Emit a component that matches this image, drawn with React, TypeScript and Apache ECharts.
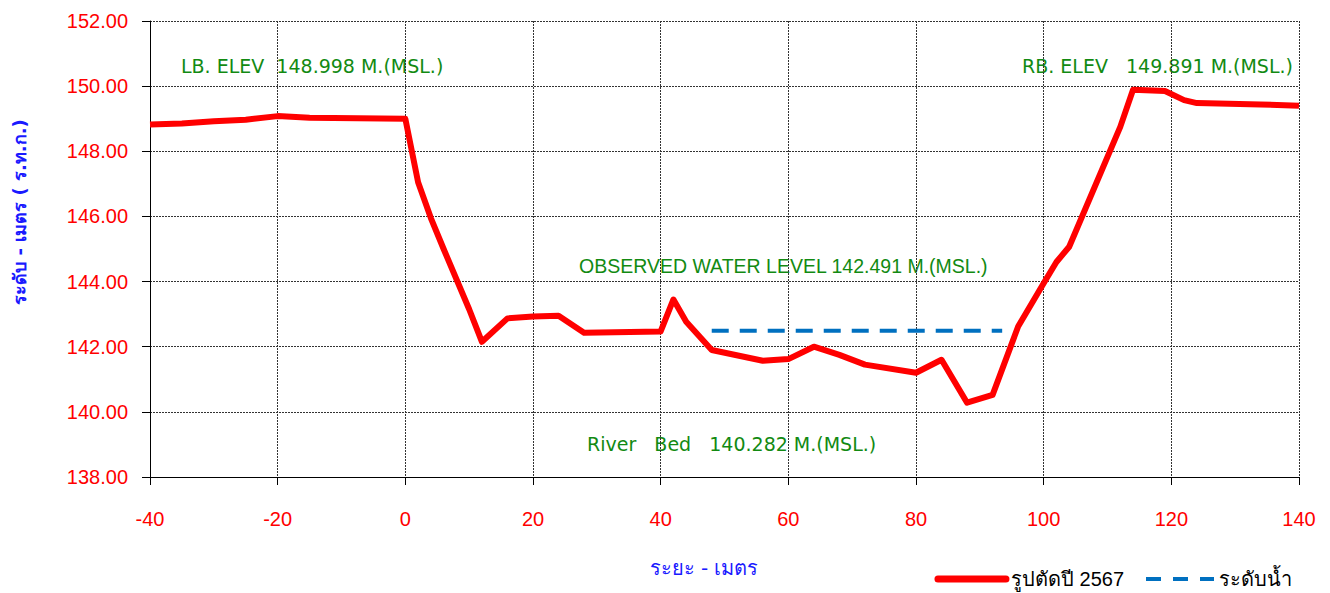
import React, { useEffect, useRef } from "react";
import * as echarts from "echarts";

const profileX = [-40, -35, -30, -25, -20, -15, 0, 2, 4, 6, 10, 12, 16, 20, 24, 28, 40, 42, 44, 48, 56, 60, 64, 68, 72, 80, 84, 88, 92, 96, 100, 102, 104, 112, 114, 119, 122, 124, 134, 140];
const profileY = [148.82, 148.85, 148.92, 148.97, 149.08, 149.03, 148.998, 147.05, 145.95, 145.0, 143.15, 142.15, 142.87, 142.93, 142.95, 142.43, 142.47, 143.45, 142.77, 141.9, 141.57, 141.62, 142.0, 141.75, 141.45, 141.2, 141.6, 140.282, 140.52, 142.62, 143.95, 144.6, 145.07, 148.75, 149.891, 149.85, 149.57, 149.48, 149.44, 149.4];
const waterX = [48, 93.5];
const waterY = [142.491, 142.491];

const seriesNames = ["รูปตัดปี 2567", "ระดับน้ำ"];
const yAxisTitle = "ระดับ - เมตร ( ร.ท.ก.)";
const xAxisTitle = "ระยะ - เมตร";
const labelLB = "LB. ELEV  148.998 M.(MSL.)";
const labelRB = "RB. ELEV   149.891 M.(MSL.)";
const labelWL = "OBSERVED WATER LEVEL 142.491 M.(MSL.)";
const labelBed = "River   Bed   140.282 M.(MSL.)";

const ARIAL = "'Liberation Sans', Arial, sans-serif";
const TAHOMA = "'DejaVu Sans', sans-serif";
const GREEN = "#128a12";

export default function App() {
  const ref = useRef<HTMLDivElement>(null);
  useEffect(() => {
    if (!ref.current) return;
    const chart = echarts.init(ref.current, undefined, { renderer: "svg" });
    const gridLine = { show: true, lineStyle: { color: "#333", width: 1, type: [2, 1] as any } };
    chart.setOption({
      animation: false,
      backgroundColor: "#fff",
      grid: { left: 150, right: 31, top: 21, bottom: 116 },
      xAxis: {
        type: "value",
        min: -40,
        max: 140,
        interval: 20,
        axisLine: { show: true, onZero: false, lineStyle: { color: "#000", width: 1 } },
        axisTick: { show: true, length: 8, lineStyle: { color: "#000" } },
        axisLabel: { color: "#ff0000", fontSize: 20, fontFamily: ARIAL, margin: 32 },
        splitLine: gridLine,
      },
      yAxis: {
        type: "value",
        min: 138,
        max: 152,
        interval: 2,
        axisLine: { show: true, onZero: false, lineStyle: { color: "#000", width: 1 } },
        axisTick: { show: true, length: 8, lineStyle: { color: "#000" } },
        axisLabel: {
          color: "#ff0000",
          fontSize: 20,
          fontFamily: ARIAL,
          margin: 22,
          formatter: (v: number) => v.toFixed(2),
        },
        splitLine: gridLine,
      },
      legend: {
        right: 33,
        top: 564,
        itemWidth: 68,
        itemHeight: 14,
        itemGap: 20,
        textStyle: { fontSize: 20, color: "#000", fontFamily: ARIAL },
        data: [
          {
            name: seriesNames[0],
            lineStyle: { width: 7, color: "#ff0000", cap: "round" },
            itemStyle: { opacity: 0 },
          },
          {
            name: seriesNames[1],
            lineStyle: { width: 4, color: "#0070c0", type: [15, 12] },
            itemStyle: { opacity: 0 },
          },
        ],
      },
      series: [
        {
          name: seriesNames[0],
          type: "line",
          data: profileX.map((x, i) => [x, profileY[i]]),
          symbol: "none",
          lineStyle: { color: "#ff0000", width: 6, join: "round" },
          itemStyle: { color: "#ff0000" },
          z: 3,
        },
        {
          name: seriesNames[1],
          type: "line",
          data: waterX.map((x, i) => [x, waterY[i]]),
          symbol: "none",
          lineStyle: { color: "#0070c0", width: 4, type: [17, 11] },
          itemStyle: { color: "#0070c0" },
          z: 2,
        },
      ],
      graphic: [
        {
          type: "text",
          x: 181,
          y: 66,
          style: { text: labelLB, fill: GREEN, font: `19px ${TAHOMA}`, textVerticalAlign: "middle" },
        },
        {
          type: "text",
          x: 1022,
          y: 66,
          style: { text: labelRB, fill: GREEN, font: `19px ${TAHOMA}`, textVerticalAlign: "middle" },
        },
        {
          type: "text",
          x: 579,
          y: 266,
          style: { text: labelWL, fill: GREEN, font: `19.5px ${ARIAL}`, textVerticalAlign: "middle" },
        },
        {
          type: "text",
          x: 587,
          y: 444,
          style: { text: labelBed, fill: GREEN, font: `19px ${TAHOMA}`, textVerticalAlign: "middle" },
        },
        {
          type: "text",
          x: 19,
          y: 212,
          rotation: Math.PI / 2,
          style: {
            text: yAxisTitle,
            fill: "#1a1aff",
            font: `bold 18px ${TAHOMA}`,
            textAlign: "center",
            textVerticalAlign: "middle",
          },
        },
        {
          type: "text",
          x: 704,
          y: 568,
          style: {
            text: xAxisTitle,
            fill: "#1a1aff",
            font: `20px ${TAHOMA}`,
            textAlign: "center",
            textVerticalAlign: "middle",
          },
        },
      ],
    });
    return () => chart.dispose();
  }, []);
  return (
    <div
      ref={ref}
      style={{ position: "fixed", left: 0, top: 0, width: 1330, height: 593 }}
    />
  );
}
